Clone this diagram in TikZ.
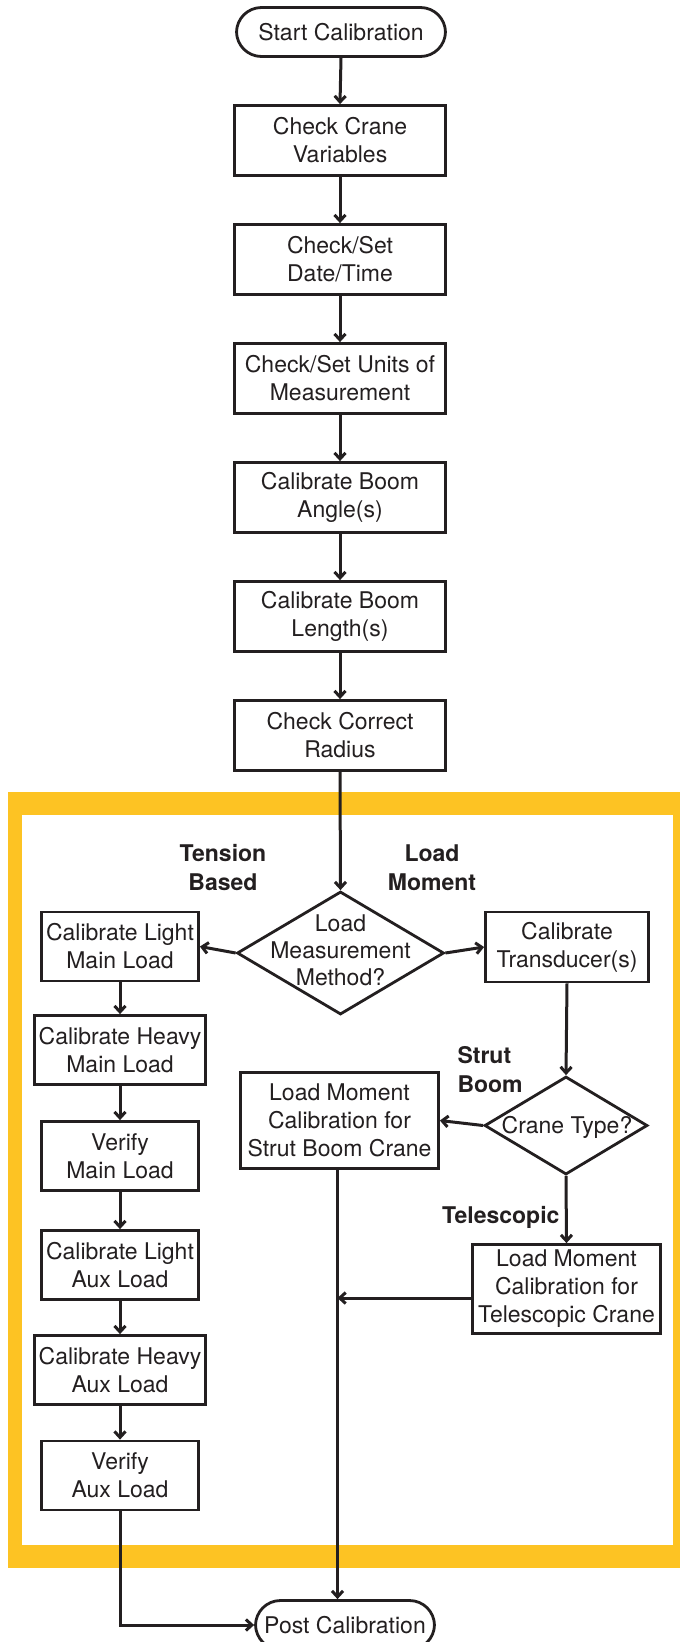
\documentclass[tikz,border=0pt]{standalone}
\usepackage{fontspec}
\setmainfont{TeX Gyre Heros}
\usetikzlibrary{shapes.geometric,arrows.meta,calc}
\definecolor{frameyellow}{RGB}{253,195,35}
\definecolor{ink}{RGB}{35,31,32}
\begin{document}
\begin{tikzpicture}[x=1pt,y=-1pt,
  every node/.style={font=\fontsize{23}{28}\selectfont, text=ink},
  box/.style={draw=ink, line width=2.8pt, rectangle, align=center, inner sep=0pt},
  mainbox/.style={box, minimum width=211pt, minimum height=70pt},
  leftbox/.style={box, minimum width=157pt, minimum height=69pt},
  term/.style={box, rounded corners=25pt, minimum height=49pt},
  dia/.style={draw=ink, line width=2.8pt, diamond, inner sep=0pt},
  diatext/.style={align=center, font=\fontsize{23}{27}\selectfont},
  lbl/.style={font=\bfseries\fontsize{23}{29}\selectfont},
  conn/.style={draw=ink, line width=3pt, -{Straight Barb[length=6pt,width=11pt]}},
]
\useasboundingbox (0,0) rectangle (680,1642);
\fill[white] (0,0) rectangle (680,1642);
% yellow frame
\fill[frameyellow] (8,792) rectangle (690,1568);
\fill[white] (22,815) rectangle (673,1545);

% main column
\node[term, minimum width=209pt] (start) at (341,32) {Start Calibration};
\node[mainbox] (b1) at (340,140.5) {Check Crane\\Variables};
\node[mainbox] (b2) at (340,259.5) {Check/Set\\Date/Time};
\node[mainbox] (b3) at (340,378.5) {Check/Set Units of\\Measurement};
\node[mainbox] (b4) at (340,497.5) {Calibrate Boom\\Angle(s)};
\node[mainbox] (b5) at (340,616.5) {Calibrate Boom\\Length(s)};
\node[mainbox] (b6) at (340,735.5) {Check Correct\\Radius};

% first decision
\node[dia, minimum width=207pt, minimum height=123pt] (d1) at (340.5,953) {};
\node[diatext] (d1t) at (340.5,950) {Load\\Measurement\\Method?};

% left column
\node[leftbox] (l1) at (120,946.5) {Calibrate Light\\Main Load};
\node[leftbox, minimum width=171pt] (l2) at (120,1050) {Calibrate Heavy\\Main Load};
\node[leftbox] (l3) at (120,1156) {Verify\\Main Load};
\node[leftbox] (l4) at (120,1265) {Calibrate Light\\Aux Load};
\node[leftbox, minimum width=171pt] (l5) at (120,1370) {Calibrate Heavy\\Aux Load};
\node[leftbox] (l6) at (120,1475.5) {Verify\\Aux Load};

% right branch
\node[box, minimum width=163pt, minimum height=70pt] (tr) at (567,947) {Calibrate\\Transducer(s)};
\node[dia, minimum width=163pt, minimum height=98pt] (d2) at (566,1125.5) {};
\node[diatext, anchor=base] (d2t) at (567,1133.5) {Crane Type?};
\node[box, minimum width=198pt, minimum height=96pt] (strut) at (339.5,1120.5) {Load Moment\\Calibration for\\Strut Boom Crane};
\node[box, minimum width=188pt, minimum height=89pt] (tele) at (566.5,1289) {Load Moment\\Calibration for\\Telescopic Crane};

% end
\node[term, minimum width=179pt] (post) at (345,1625) {Post Calibration};

% labels
\node[lbl, align=center] (lt) at (223,868) {Tension\\Based};
\node[lbl, align=center] (lm) at (432,868) {Load\\Moment};
\node[lbl, align=left, anchor=west] (ls) at (454,1070) {Strut\\Boom};
\node[lbl, anchor=east] (ltel) at (563,1217) {Telescopic};

% connectors main column
\draw[conn] (start.south) -- (b1.north);
\draw[conn] (b1.south) -- (b2.north);
\draw[conn] (b2.south) -- (b3.north);
\draw[conn] (b3.south) -- (b4.north);
\draw[conn] (b4.south) -- (b5.north);
\draw[conn] (b5.south) -- (b6.north);
\draw[conn] (b6.south) -- (d1.north);

\draw[conn] (d1.west) -- (l1.east);
\draw[conn] (d1.east) -- (tr.west);

\draw[conn] (l1.south) -- (l2.north);
\draw[conn] (l2.south) -- (l3.north);
\draw[conn] (l3.south) -- (l4.north);
\draw[conn] (l4.south) -- (l5.north);
\draw[conn] (l5.south) -- (l6.north);
\draw[conn] (l6.south) |- (post.west);

\draw[conn] (tr.south) -- (d2.north);
\draw[conn] (d2.west) -- (strut.east);
\draw[conn] (d2.south) -- (tele.north);

\coordinate (vx) at ([xshift=-2pt]strut.south);
\draw[conn] (vx) -- (vx |- post.north);
\coordinate (tw) at ([yshift=-9pt]tele.west);
\draw[conn] (tw) -- (tw -| vx);
\end{tikzpicture}
\end{document}
